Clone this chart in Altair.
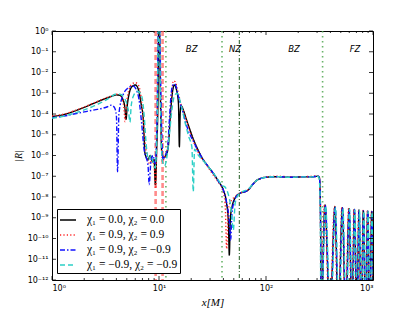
import altair as alt
import pandas as pd

# ---------------- data ----------------
SERIES = ["χ₁ = 0.0, χ₂ = 0.0", "χ₁ = 0.9, χ₂ = 0.9",
          "χ₁ = 0.9, χ₂ = −0.9", "χ₁ = −0.9, χ₂ = −0.9"]
COLORS = ["#000000", "#ff2020", "#1010ff", "#2ccfc6"]
DASHES = [[1, 0], [1.2, 2.2], [5, 2, 1.5, 2], [5, 3]]
WIDTHS = [1.4, 1.4, 1.2, 1.7]

# x in M, values as log10|R|
BLACK_X = [1.0, 1.3, 1.6, 2.0, 2.5, 3.0, 3.5, 4.0, 4.3, 4.6, 4.8, 4.92, 5.05, 5.3, 5.6, 6.0,
           6.4, 6.8, 7.14, 7.4, 7.9, 8.3, 8.7, 9.0, 9.25, 9.5, 9.8, 9.93, 10.07, 10.3, 10.6,
           11.0, 11.6, 12.2, 12.8, 13.4, 13.9, 14.6, 15.2, 15.5, 15.8, 16.1, 17.0, 18.0, 19.5,
           20.9, 23.0, 25.9, 29.0, 32.2, 36.0, 39.9, 42.5, 44.5, 45.4, 46.5, 48.5, 51.3, 57.0,
           63.0, 68.3, 75.0, 82.0, 90.0, 100.0, 130.0, 170.0, 220.0, 270.0, 305.0, 315.0,
           320.0, 324.0, 327.0]
BLACK_LOG = [-4.12, -4.02, -3.87, -3.68, -3.47, -3.3, -3.17, -3.08, -3.1, -3.3, -3.7, -4.26,
             -3.6, -2.95, -2.68, -2.6, -2.8, -3.5, -4.3, -5.9, -6.2, -6.0, -6.3, -6.2, -7.4,
             -5.8, -3.0, 0.3, 0.3, -3.0, -5.8, -6.1, -6.0, -5.6, -4.0, -2.9, -2.6, -2.85, -3.5,
             -5.58, -3.9, -3.61, -3.85, -4.25, -4.77, -5.2, -5.7, -6.2, -6.55, -6.86, -7.25,
             -7.66, -8.2, -9.2, -10.8, -9.0, -8.4, -8.06, -7.82, -7.75, -7.66, -7.4, -7.2, -7.1,
             -7.05, -7.02, -7.05, -7.03, -7.03, -7.0, -7.05, -7.6, -9.5, -14.0]
BLACK_FZ_PEAKS = [356, 441, 517, 597, 669, 740, 812, 892, 973]
BLACK_FZ_PEAK_LOG = [-8.38, -8.47, -8.52, -8.56, -8.6, -8.63, -8.66, -8.68, -8.7]
BLACK_FZ_ZEROS = [396, 474, 556, 637, 708, 778, 855, 931, 1010]

RED_X = [1.0, 1.3, 1.6, 2.0, 2.5, 3.0, 3.5, 4.0, 4.3, 4.55, 4.72, 4.82, 4.95, 5.2, 5.6, 6.0,
         6.4, 6.8, 7.1, 7.4, 7.8, 8.2, 8.6, 9.0, 9.3, 9.6, 9.88, 10.12, 10.4, 10.8, 11.2, 11.7,
         12.2, 12.7, 13.2, 13.6, 14.2, 15.0, 16.0, 17.0, 18.0, 19.5, 20.9, 23.0, 25.9, 29.0,
         32.2, 36.0, 39.0, 41.5, 42.9, 44.5, 47.0, 51.3, 57.0, 63.0, 68.3, 75.0, 82.0, 90.0,
         100.0, 130.0, 170.0, 220.0, 270.0, 305.0, 315.0, 319.0, 323.0, 326.0]
RED_LOG = [-4.1, -4.0, -3.85, -3.66, -3.45, -3.28, -3.15, -3.05, -3.06, -3.3, -3.8, -4.37,
           -3.6, -2.9, -2.55, -2.49, -2.6, -3.2, -4.2, -5.3, -6.1, -6.4, -6.2, -6.5, -7.6, -4.0,
           0.3, 0.3, -4.0, -6.3, -6.1, -5.9, -5.3, -4.0, -2.9, -2.4, -2.45, -2.9, -3.5, -3.9,
           -4.3, -4.85, -5.3, -5.8, -6.25, -6.6, -6.95, -7.3, -7.6, -8.3, -10.5, -8.6, -8.2,
           -8.0, -7.8, -7.75, -7.65, -7.4, -7.2, -7.1, -7.03, -7.0, -7.03, -7.02, -7.0, -6.98,
           -7.05, -7.6, -9.5, -14.0]
RED_FZ_PEAKS = [352, 436, 512, 592, 664, 735, 807, 887, 968]
RED_FZ_PEAK_LOG = [-8.36, -8.45, -8.5, -8.55, -8.58, -8.62, -8.65, -8.67, -8.7]
RED_FZ_ZEROS = [393, 470, 551, 631, 702, 773, 849, 925, 1005]

BLUE_X = [1.0, 1.3, 1.6, 2.0, 2.5, 3.0, 3.3, 3.6, 3.85, 4.0, 4.1, 4.22, 4.6, 5.0, 5.4, 5.75,
          6.1, 6.5, 6.9, 7.3, 7.6, 7.9, 8.1, 8.4, 8.8, 9.2, 9.6, 9.9, 10.1, 10.5, 10.9, 11.4,
          12.0, 12.5, 13.0, 13.5, 14.1, 14.8, 15.6, 16.5, 17.5, 18.5, 19.5, 20.9, 23.0, 25.9,
          29.0, 32.2, 36.0, 39.9, 43.0, 45.5, 46.8, 48.0, 51.3, 57.0, 63.0, 68.3, 75.0, 82.0,
          90.0, 100.0, 130.0, 170.0, 220.0, 270.0, 305.0, 315.0, 320.0, 324.0, 328.0]
BLUE_LOG = [-4.18, -4.1, -4.0, -3.9, -3.8, -3.72, -3.65, -3.57, -3.7, -4.1, -6.78, -4.0, -3.1,
            -2.8, -2.68, -2.65, -2.8, -3.3, -4.5, -5.8, -6.1, -6.5, -7.4, -6.3, -6.0, -6.4,
            -4.0, 0.3, 0.3, -4.0, -6.2, -6.0, -5.7, -4.3, -3.0, -2.6, -2.55, -2.9, -3.4, -3.8,
            -4.3, -4.7, -5.0, -5.3, -5.75, -6.2, -6.55, -6.86, -7.25, -7.66, -8.3, -9.2, -10.07,
            -8.8, -8.1, -7.82, -7.75, -7.66, -7.4, -7.2, -7.1, -7.05, -7.02, -7.05, -7.03,
            -7.03, -7.0, -7.05, -7.6, -9.5, -14.0]
BLUE_FZ_PEAKS = [358, 443, 519, 599, 672, 743, 815, 895, 976]
BLUE_FZ_PEAK_LOG = [-8.4, -8.48, -8.53, -8.57, -8.6, -8.64, -8.67, -8.69, -8.71]
BLUE_FZ_ZEROS = [398, 477, 559, 640, 711, 781, 858, 934, 1012]

CYAN_X = [1.0, 1.3, 1.6, 2.0, 2.5, 3.0, 3.5, 3.9, 4.3, 4.7, 5.0, 5.2, 5.35, 5.5, 5.8, 6.3,
          6.7, 7.0, 7.3, 7.6, 8.0, 8.4, 8.8, 9.2, 9.6, 9.92, 10.08, 10.4, 10.8, 11.3, 11.9,
          12.5, 13.2, 14.0, 14.8, 15.6, 16.5, 17.5, 19.0, 20.3, 20.9, 21.5, 23.0, 25.9, 29.0,
          32.2, 36.0, 39.0, 41.0, 44.0, 47.0, 49.5, 51.5, 55.0, 60.0, 68.3, 75.0, 82.0, 90.0,
          100.0, 130.0, 170.0, 220.0, 270.0, 300.0, 312.0, 318.0, 322.0, 326.0]
CYAN_LOG = [-4.2, -4.1, -3.97, -3.8, -3.6, -3.4, -3.2, -3.05, -3.05, -3.2, -3.5, -3.9, -4.4,
            -3.6, -3.1, -2.9, -3.0, -3.3, -4.2, -5.5, -6.2, -6.0, -6.3, -6.6, -4.5, 0.3, 0.3,
            -4.5, -6.3, -6.5, -6.0, -5.0, -3.8, -3.1, -3.0, -3.3, -3.8, -4.4, -5.1, -5.6,
            -7.75, -5.7, -5.95, -6.25, -6.55, -6.85, -7.2, -7.45, -7.5, -7.8, -8.5, -9.6, -8.3,
            -7.9, -7.75, -7.62, -7.4, -7.2, -7.1, -7.05, -7.02, -7.05, -7.03, -7.03, -7.0,
            -7.05, -7.5, -9.0, -14.0]
CYAN_FZ_PEAKS = [360, 446, 523, 604, 676, 748, 820, 900, 980]
CYAN_FZ_PEAK_LOG = [-8.42, -8.5, -8.55, -8.58, -8.62, -8.65, -8.68, -8.7, -8.72]
CYAN_FZ_ZEROS = [402, 481, 563, 645, 716, 786, 864, 940, 1016]

FZ_FLOOR_LOG = -14.0

RED_VLINES = [9.3, 10.8]
GREEN_DOTTED_VLINES = [11.6, 38.8, 338.0]
DASHDOT_VLINES = [56.3]

ZONE_LABELS = ["BZ", "NZ", "BZ", "FZ"]
ZONE_X = [20.2, 51.3, 183.0, 679.0]

X_MAJOR = [1, 10, 100, 1000]
X_MINOR = [2, 3, 4, 5, 6, 7, 8, 9, 20, 30, 40, 50, 60, 70, 80, 90,
           200, 300, 400, 500, 600, 700, 800, 900]
X_TICK_LABELS = ["10⁰", "10¹", "10²", "10³"]
Y_MAJOR = [1e0, 1e-1, 1e-2, 1e-3, 1e-4, 1e-5, 1e-6, 1e-7, 1e-8, 1e-9, 1e-10, 1e-11, 1e-12]
Y_TICK_LABELS = ["10⁰", "10⁻¹", "10⁻²", "10⁻³", "10⁻⁴", "10⁻⁵", "10⁻⁶", "10⁻⁷",
                 "10⁻⁸", "10⁻⁹", "10⁻¹⁰", "10⁻¹¹", "10⁻¹²"]

# ---------------- build table ----------------
rows = []
for name, xs, logs, peaks, plogs, zeros in [
    (SERIES[0], BLACK_X, BLACK_LOG, BLACK_FZ_PEAKS, BLACK_FZ_PEAK_LOG, BLACK_FZ_ZEROS),
    (SERIES[1], RED_X, RED_LOG, RED_FZ_PEAKS, RED_FZ_PEAK_LOG, RED_FZ_ZEROS),
    (SERIES[2], BLUE_X, BLUE_LOG, BLUE_FZ_PEAKS, BLUE_FZ_PEAK_LOG, BLUE_FZ_ZEROS),
    (SERIES[3], CYAN_X, CYAN_LOG, CYAN_FZ_PEAKS, CYAN_FZ_PEAK_LOG, CYAN_FZ_ZEROS),
]:
    for x, l in zip(xs, logs):
        rows.append({"series": name, "x": x, "R": 10.0 ** l})
    for p, pl, z in zip(peaks, plogs, zeros):
        rows.append({"series": name, "x": p, "R": 10.0 ** pl})
        rows.append({"series": name, "x": z, "R": 10.0 ** FZ_FLOOR_LOG})
df = pd.DataFrame(rows)

W, H = 321, 249
xscale = alt.Scale(type="log", domain=[1, 1000], nice=False)
yscale = alt.Scale(type="log", domain=[1e-12, 1], nice=False)

x_label_expr = "[" + ",".join("'%s'" % s for s in X_TICK_LABELS) + "][round(log(datum.value)/LN10)]"
y_label_expr = "[" + ",".join("'%s'" % s for s in Y_TICK_LABELS) + "][-round(log(datum.value)/LN10)]"

legend_kw = dict(orient="none", legendX=5, legendY=178, title=None,
                 symbolType="stroke", symbolSize=256, symbolStrokeWidth=1.5,
                 labelFont="Liberation Serif", labelFontSize=11.5, labelColor="black",
                 fillColor="white", strokeColor="black", padding=2, rowPadding=0,
                 labelOffset=10)

lines = alt.Chart(df).mark_line(clip=True, interpolate="monotone").encode(
    x=alt.X("x:Q", scale=xscale,
            axis=alt.Axis(values=X_MAJOR, labelExpr=x_label_expr, grid=False, ticks=False,
                          domain=False, labelFont="DejaVu Sans", labelFontSize=8,
                          labelColor="black", labelPadding=4, title="x[M]",
                          titleFont="Liberation Serif", titleFontStyle="italic",
                          titleFontWeight="normal", titleFontSize=11, titleColor="black",
                          titleX=W / 2, titleY=22, titleBaseline="middle")),
    y=alt.Y("R:Q", scale=yscale,
            axis=alt.Axis(values=Y_MAJOR, labelExpr=y_label_expr, grid=False, ticks=False,
                          domain=False, labelFont="DejaVu Sans", labelFontSize=8,
                          labelColor="black", labelPadding=4, title="|R|",
                          titleFont="Liberation Serif", titleFontStyle="italic",
                          titleFontWeight="normal", titleFontSize=10, titleColor="black",
                          titleX=-34, titleY=H / 2, titleBaseline="middle",
                          titleAlign="center")),
    color=alt.Color("series:N", scale=alt.Scale(domain=SERIES, range=COLORS),
                    sort=SERIES, legend=alt.Legend(**legend_kw)),
    strokeDash=alt.StrokeDash("series:N", scale=alt.Scale(domain=SERIES, range=DASHES),
                              sort=SERIES, legend=alt.Legend(**legend_kw)),
    strokeWidth=alt.StrokeWidth("series:N", scale=alt.Scale(domain=SERIES, range=WIDTHS),
                                legend=None),
    detail="series:N",
)

red_v = alt.Chart(pd.DataFrame({"x": RED_VLINES})).mark_rule(
    color="#ff5a5a", strokeWidth=2.6, strokeDash=[5, 3], opacity=0.7).encode(
    x=alt.X("x:Q", scale=xscale))
green_v = alt.Chart(pd.DataFrame({"x": GREEN_DOTTED_VLINES})).mark_rule(
    color="#4fa64f", strokeWidth=1.6, strokeDash=[1.5, 3.5], opacity=0.85).encode(
    x=alt.X("x:Q", scale=xscale))
dd_v = alt.Chart(pd.DataFrame({"x": DASHDOT_VLINES})).mark_rule(
    color="#1e5a1e", strokeWidth=1.0, strokeDash=[4, 2, 1, 2]).encode(
    x=alt.X("x:Q", scale=xscale))

zones = alt.Chart(pd.DataFrame({"x": ZONE_X, "label": ZONE_LABELS})).mark_text(
    font="DejaVu Sans", fontStyle="italic", fontSize=8.5, color="black",
    baseline="middle").encode(x=alt.X("x:Q", scale=xscale), y=alt.value(18), text="label:N")

xmaj = pd.DataFrame({"v": X_MAJOR})
xmin = pd.DataFrame({"v": X_MINOR})
ymaj = pd.DataFrame({"v": Y_MAJOR})
tick_kw = dict(color="black", strokeWidth=0.8)
ticks = [
    alt.Chart(xmaj).mark_rule(**tick_kw).encode(x=alt.X("v:Q", scale=xscale), y=alt.value(H), y2=alt.value(H - 4)),
    alt.Chart(xmaj).mark_rule(**tick_kw).encode(x=alt.X("v:Q", scale=xscale), y=alt.value(0), y2=alt.value(4)),
    alt.Chart(xmin).mark_rule(**tick_kw).encode(x=alt.X("v:Q", scale=xscale), y=alt.value(H), y2=alt.value(H - 2)),
    alt.Chart(xmin).mark_rule(**tick_kw).encode(x=alt.X("v:Q", scale=xscale), y=alt.value(0), y2=alt.value(2)),
    alt.Chart(ymaj).mark_rule(**tick_kw).encode(y=alt.Y("v:Q", scale=yscale), x=alt.value(0), x2=alt.value(4)),
    alt.Chart(ymaj).mark_rule(**tick_kw).encode(y=alt.Y("v:Q", scale=yscale), x=alt.value(W), x2=alt.value(W - 4)),
]

chart = alt.layer(red_v, green_v, dd_v, lines, zones, *ticks).properties(
    width=W, height=H,
    autosize=alt.AutoSizeParams(type="none"),
    padding={"left": 44, "top": 23, "right": 34, "bottom": 32},
).configure_view(stroke="black", strokeWidth=1)

chart.save("out.html", embed_options={"renderer": "svg", "actions": False})
